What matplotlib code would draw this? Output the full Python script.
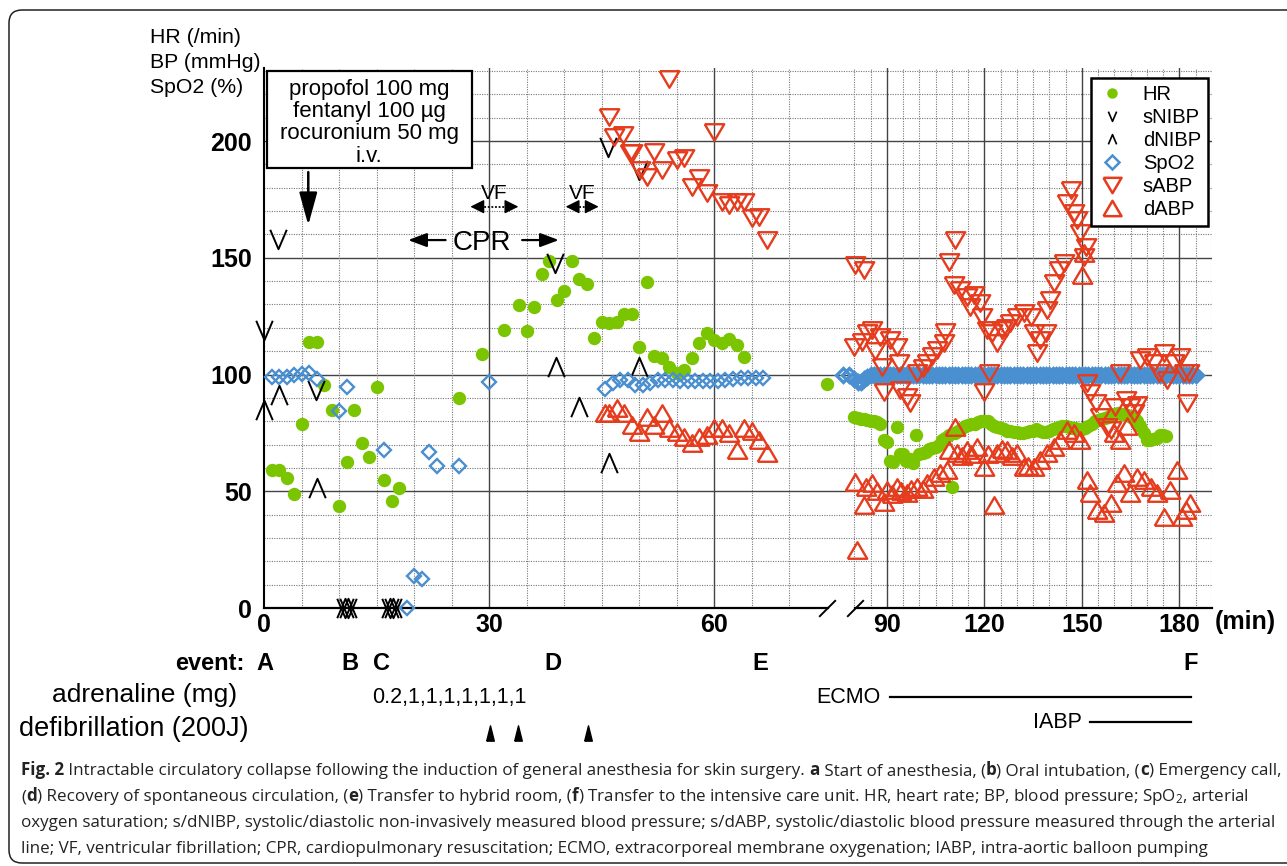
import numpy as np
import matplotlib
matplotlib.use('Agg')
import matplotlib.pyplot as plt
from matplotlib.lines import Line2D
from matplotlib.path import Path
from matplotlib import transforms as mtrans
from matplotlib.patches import Rectangle, FancyBboxPatch
from matplotlib import font_manager as fm
import os

plt.rcParams['font.family'] = ['Liberation Sans', 'DejaVu Sans']

# ---------------- data (time in minutes) ----------------
hr_time = [1, 2, 3, 4, 5, 6, 7, 8, 9, 10, 11, 12, 13, 14, 15, 16, 17, 18, 26, 29, 32, 34, 35, 36,
           37, 38, 39, 40, 41, 42, 43, 44, 45, 46, 47, 48, 49, 50, 51, 52, 53, 54, 55, 56, 57,
           58, 59, 60, 61, 62, 63, 64, 75]
hr_value = [59.1, 59, 55.5, 48.7, 78.7, 113.8, 113.8, 95.5, 84.8, 43.8, 62.7, 84.8, 70.5, 64.8,
            94.5, 54.8, 45.8, 51.5, 89.8, 108.8, 119, 129.8, 118.5, 129, 142.9, 148.7, 131.9,
            135.8, 148.7, 140.9, 138.8, 115.8, 122.6, 121.9, 122.6, 126, 125.9, 111.9, 139.8,
            107.9, 107.2, 103.4, 100.5, 101.9, 106.9, 113.6, 117.9, 114.8, 113.6, 115.1, 112.6,
            107.6, 95.9]
hr_icu_time = [80, 81, 82, 83, 84, 85, 86, 87, 88, 89, 90, 91, 92, 93, 94, 95, 96, 97, 98, 99,
               100, 101, 102, 103, 104, 105, 106, 107, 108, 109, 110, 111, 112, 113, 114, 115,
               116, 117, 118, 119, 120, 121, 122, 123, 124, 125, 126, 127, 128, 129, 130, 131,
               132, 133, 134, 135, 136, 137, 138, 139, 140, 141, 142, 143, 144, 145, 146, 147,
               148, 149, 150, 151, 152, 153, 154, 155, 156, 157, 158, 159, 160, 161, 162, 163,
               164, 165, 166, 167, 168, 169, 170, 171, 172, 173, 174, 175, 176]
hr_icu_value = [82, 81.5, 81, 81, 80.5, 80, 80, 79.5, 79, 72, 71, 63, 62.5, 77.7, 66, 66, 63, 64,
                62, 74, 66, 66.5, 67, 68, 68.5, 69, 70, 72, 73, 74, 52, 75, 76, 77, 78, 78.5, 79,
                79, 79.5, 80, 80, 80, 79, 78, 77.5, 77, 76.5, 76, 76, 75.5, 75.5, 75, 75, 75.5,
                76, 76, 76.5, 76, 75.5, 75.5, 76, 76.5, 77, 77.5, 78, 78, 77.5, 77, 77, 76.5,
                76.5, 77, 78, 79, 80, 80.5, 81, 81.5, 82, 82.5, 83, 83.5, 83, 83, 82.5, 82, 82,
                80, 78, 75, 72, 72, 72.5, 73, 74, 74, 73.5]

snibp_time = [0, 1.9, 6.9, 10.8, 11.2, 16.8, 17.2, 38.8, 45.9, 50.0]
snibp_value = [119, 158, 93.4, 0, 0, 0, 0, 147.6, 197.6, 187.6]
dnibp_time = [0, 2.0, 7.0, 10.8, 11.2, 16.8, 17.2, 38.9, 42.0, 46.0, 50.0]
dnibp_value = [84.8, 91.2, 51.3, 0, 0, 0, 0, 103.4, 86.2, 62, 103.4]

spo2_time = [1, 2, 3, 4, 5, 6, 7, 10, 11, 16, 19, 20, 21, 22, 23, 26, 30,
             45.5, 46.5, 47.5, 48.5, 49.5, 50.5, 51.5, 52.5, 53.5, 54.5, 55.5, 56.5, 57.5, 58.5,
             59.5, 60.5, 61.5, 62.5, 63.5, 64.5, 65.5, 66.5]
spo2_value = [98.8, 98.8, 98.8, 99.8, 100.2, 100.7, 98.3, 84.5, 94.5, 67.7, 0, 13.7, 12.3, 66.9,
              60.8, 60.9, 96.9,
              94, 96.5, 97.5, 97.5, 95.5, 95.5, 96.5, 97.5, 97.5, 97.5, 97.3, 97.3, 97.3, 97.3,
              97.3, 97.3, 97.5, 98, 98.5, 98.5, 98.5, 98.5]
spo2_icu_time = [78, 79, 80, 81, 82, 83, 84, 85, 86, 87, 88, 89, 90, 91, 92, 93, 94, 95, 96, 97,
                 98, 99, 100, 101, 102, 103, 104, 105, 106, 107, 108, 109, 110, 111, 112, 113,
                 114, 115, 116, 117, 118, 119, 120, 121, 122, 123, 124, 125, 126, 127, 128, 129,
                 130, 131, 132, 133, 134, 135, 136, 137, 138, 139, 140, 141, 142, 143, 144, 145,
                 146, 147, 148, 149, 150, 151, 152, 153, 154, 155, 156, 157, 158, 159, 160, 161,
                 162, 163, 164, 165, 166, 167, 168, 169, 170, 171, 172, 173, 174, 175, 176, 177,
                 178, 179, 180, 181, 182, 183, 184, 185]
spo2_icu_value = [100, 100, 98, 97, 97, 98, 99, 100, 100, 100, 100, 100, 100, 100, 100, 100, 100,
                  100, 100, 100, 100, 100, 100, 100, 100, 100, 100, 100, 100, 100, 100, 100, 100,
                  100, 100, 100, 100, 100, 100, 100, 100, 100, 100, 100, 100, 100, 100, 100, 100,
                  100, 100, 100, 100, 100, 100, 100, 100, 100, 100, 100, 100, 100, 100, 100, 100,
                  100, 100, 100, 100, 100, 100, 100, 100, 100, 100, 100, 100, 100, 100, 100, 100,
                  100, 100, 100, 100, 100, 100, 100, 100, 100, 100, 100, 100, 100, 100, 100, 100,
                  100, 100, 100, 100, 100, 100, 100, 100, 100, 100, 100]

sabp_time = [46, 46.6, 47.9, 48.8, 49, 50.1, 51.1, 52, 53, 54, 55, 56, 57, 58, 59, 60, 61, 62, 63,
             64, 65, 66, 67,
             80, 80.3, 82.4, 82.9, 84, 85.4, 86.5, 88, 88.5, 89, 91, 93.1, 93.6, 94.2, 96.2, 97.2,
             99.3, 101, 102.4, 104, 105.4, 107.5, 108, 109, 110.6, 111.1, 112.6, 114.7, 115.7,
             116.7, 118.8, 119.3, 119.8, 120.8, 121.3, 122.4, 123.9, 125.4, 126.5, 128, 130,
             132.1, 134.2, 135.2, 136.2, 137.2, 138.8, 139.3, 140.3, 141.3, 142.9, 144.4, 145.4,
             146.5, 147.5, 148.5, 149.5, 150.6, 151.1, 151.6, 152.6, 154.2, 155.7, 157.7, 158.8,
             160.3, 161.8, 163.4, 164.9, 166, 167, 168, 170, 172.1, 173.6, 175.2, 176.2, 178.3,
             180.3, 181.3, 182.4, 182.9]
sabp_value = [210.4, 201.8, 202.6, 195, 194.7, 187.6, 184.7, 195.5, 187.6, 226.8, 191.9, 192.6,
              180.5, 184, 177.6, 204, 174, 172.6, 174, 174, 166.9, 167.6, 157.6,
              111.9, 146.9, 114, 144.7, 118, 119, 110, 116.2, 103.4, 92.6, 114.8, 111.9, 104.8,
              93.4, 90.5, 87.7, 100.5, 103, 104.8, 108, 110.5, 113.3, 118.3, 148.3, 138.3, 157.6,
              136.2, 133.3, 129, 134, 130.5, 124.8, 92.6, 119, 100.5, 117.6, 113.3, 119, 120,
              121.9, 124.8, 126.2, 124.8, 117.6, 109.1, 114.8, 117.6, 127.6, 131.9, 139, 144.8,
              147.6, 173.3, 179, 169, 166.2, 160.5, 150.5, 154.7, 96.2, 92, 87.7, 81.9, 77.7,
              76.2, 86.2, 100.5, 89, 86.2, 83.4, 87, 106.2, 107.6, 104.8, 100.5, 109.1, 97.6,
              104.8, 107.6, 100.5, 87.7, 100.5]

dabp_time = [45.5, 46, 47, 48, 49, 50, 51, 52, 53, 54, 55, 56, 57, 58, 59, 60, 61, 62, 63, 64,
             65, 66, 67,
             80.3, 80.8, 82.9, 83.5, 85.4, 87, 89, 90, 91.5, 93.1, 94.5, 96.2, 97.5, 99.3, 101,
             102.4, 104.4, 106.5, 108.5, 109, 111.1, 111.6, 113, 114.7, 116, 117.7, 119.8, 121,
             122.9, 123.9, 125.5, 127, 128.5, 130, 132.1, 133.5, 135.2, 137.2, 139.3, 141.3,
             143.4, 145.4, 147.5, 149.5, 150, 150.5, 151.6, 152.6, 154.7, 156.7, 158.8, 159.8,
             160.8, 161.8, 162.9, 163.9, 164.9, 167, 169, 171.1, 173.1, 175.2, 177.2, 179.3,
             180.8, 182, 183.3]
dabp_value = [83.4, 83.4, 85.5, 83.4, 78.4, 75.5, 82, 78.4, 83.4, 77, 75.5, 73.4, 70.5, 73.4, 74,
              77, 77, 75, 67.7, 77, 76, 72, 66.2,
              54.1, 24.8, 44.1, 52, 53.4, 50, 45.5, 50.5, 49, 52, 50, 49.1, 51, 52, 51, 53.4,
              56.2, 57.7, 59.1, 67.7, 77.7, 66.2, 65, 67.7, 66, 69.1, 60.5, 66, 44.1, 66.2, 68,
              67.7, 65, 66.2, 60.5, 61, 60.5, 63.4, 66.2, 69.1, 72, 76.2, 74.8, 72, 142.6, 152,
              55, 49.1, 42, 40.5, 44.8, 74.8, 53.4, 72, 57.7, 78, 49.1, 56.2, 54.8, 52, 49.1,
              39.1, 50.5, 59.1, 39.1, 42, 44.8]

x_ticks = [0, 30, 60, 90, 120, 150, 180]
y_ticks = [0, 50, 100, 150, 200]
event_labels = ['A', 'B', 'C', 'D', 'E', 'F']
event_time = [0.1, 11.5, 15.7, 38.5, 66.1, 183.4]
defib_time = [30.1, 33.9, 43.2]
adrenaline_text = '0.2,1,1,1,1,1,1,1'
ecmo_span = [91, 183.4]
iabp_span = [152.6, 183.4]
drug_lines = ['propofol 100 mg', 'fentanyl 100 µg', 'rocuronium 50 mg', 'i.v.']

GREEN = '#7AC400'
BLUE = '#4A8FD0'
RED = '#E63C1E'

# caption font: first humanist family that really has a bold face installed
CAP_FAMILY = 'Liberation Sans'
for fam in ['Open Sans', 'Noto Sans', 'Lato', 'Roboto']:
    try:
        f_reg = fm.findfont(fm.FontProperties(family=fam), fallback_to_default=False)
        f_bold = fm.findfont(fm.FontProperties(family=fam, weight='bold'),
                             fallback_to_default=False)
        if f_reg != f_bold and 'bold' in os.path.basename(f_bold).lower():
            CAP_FAMILY = fam
            break
    except Exception:
        pass
CAP_FONT = [CAP_FAMILY, 'DejaVu Sans']
plt.rcParams['mathtext.fontset'] = 'custom'
plt.rcParams['mathtext.rm'] = CAP_FAMILY
plt.rcParams['mathtext.it'] = CAP_FAMILY + ':italic'

# ---------------- figure ----------------
W, H = 1287, 866
fig = plt.figure(figsize=(W / 100, H / 100), dpi=100)


def fx(x):
    return x / W


def fy(y):
    return 1 - y / H


ax = fig.add_axes([fx(264), fy(608), fx(1212) - fx(264), fy(68) - fy(608)])

# broken time axis: 7.5 px/min up to 75 min, 3.25 px/min after 80 min
brk_t = np.array([-10.0, 0.0, 75.0, 80.0, 200.0])
brk_u = np.array([-75.0, 0.0, 562.5, 590.0, 980.0])


def fwd(t):
    return np.interp(t, brk_t, brk_u)


def inv(u):
    return np.interp(u, brk_u, brk_t)


ax.set_xscale('function', functions=(fwd, inv))
ax.set_xlim(0, 190)
ax.set_ylim(0, 231.3)

# grid
for v in range(10, 231, 10):
    if v % 50 == 0:
        ax.axhline(v, color='#444444', lw=1.0, zorder=0.5)
    else:
        ax.axhline(v, color='#777777', lw=0.8, ls=(0, (1, 1.2)), zorder=0.5)
vgrid = list(range(5, 71, 5)) + list(range(80, 191, 5))
for t in vgrid:
    if t in (30, 60, 90, 120, 150, 180):
        ax.axvline(t, color='#444444', lw=1.0, zorder=0.5)
    else:
        ax.axvline(t, color='#777777', lw=0.8, ls=(0, (1, 1.2)), zorder=0.5)

for s in ['top', 'right', 'bottom']:
    ax.spines[s].set_visible(False)
ax.spines['left'].set_linewidth(1.5)
ax.spines['left'].set_color('black')

xax = ax.get_xaxis_transform()
ax.plot([0, 75.3], [0, 0], color='black', lw=1.6, transform=xax, clip_on=False, zorder=3)
ax.plot([80.2, 190], [0, 0], color='black', lw=1.6, transform=xax, clip_on=False, zorder=3)
slash = Path([(-1, -1), (1, 1)])
ax.plot([75.1, 80.2], [0, 0], ls='none', marker=slash, ms=12, mew=1.4, color='black',
        transform=xax, clip_on=False, zorder=3)

ax.set_xticks(x_ticks)
ax.set_yticks(y_ticks)
ax.set_xticklabels([str(v) for v in x_ticks])
ax.set_yticklabels([str(v) for v in y_ticks])
ax.tick_params(axis='both', length=0, labelsize=18)
ax.tick_params(axis='y', pad=8.6)
ax.tick_params(axis='x', pad=3.6)
for lab in ax.get_xticklabels() + ax.get_yticklabels():
    lab.set_fontweight('bold')
ax.text(1.003, -0.026, '(min)', transform=ax.transAxes, ha='left', va='center',
        fontsize=18, fontweight='bold')

# markers
V_path = Path([(-0.85, 1), (0, -1), (0.85, 1)])
L_path = Path([(-0.85, -1), (0, 1), (0.85, -1)])
tri_down = Path([(-1, 0.85), (1, 0.85), (0, -0.85), (-1, 0.85)])
tri_up = Path([(-1, -0.85), (1, -0.85), (0, 0.85), (-1, -0.85)])

ax.plot(hr_time + hr_icu_time, hr_value + hr_icu_value, ls='none', marker='o', ms=9.6,
        mfc=GREEN, mec=GREEN, mew=0, clip_on=False, zorder=4)
ax.plot(snibp_time, snibp_value, ls='none', marker=V_path, ms=14, mfc='none', mec='black',
        mew=1.4, clip_on=False, zorder=5)
ax.plot(dnibp_time, dnibp_value, ls='none', marker=L_path, ms=14, mfc='none', mec='black',
        mew=1.4, clip_on=False, zorder=5)
ax.plot(spo2_time, spo2_value, ls='none', marker='D', ms=7.4,
        mfc='none', mec=BLUE, mew=1.7, clip_on=False, zorder=6)
ax.plot(spo2_icu_time, spo2_icu_value, ls='none', marker='D', ms=7.6,
        mfc='none', mec=BLUE, mew=2.4, clip_on=False, zorder=6)
ax.plot(sabp_time, sabp_value, ls='none', marker=tri_down, ms=14, mfc='none', mec=RED,
        mew=1.7, clip_on=False, zorder=7)
ax.plot(dabp_time, dabp_value, ls='none', marker=tri_up, ms=14, mfc='none', mec=RED,
        mew=1.7, clip_on=False, zorder=7)

# legend
handles = [
    Line2D([], [], ls='none', marker='o', ms=7.5, mfc=GREEN, mec=GREEN, mew=0),
    Line2D([], [], ls='none', marker=V_path, ms=7, mfc='none', mec='black', mew=1.2),
    Line2D([], [], ls='none', marker=L_path, ms=7, mfc='none', mec='black', mew=1.2),
    Line2D([], [], ls='none', marker='D', ms=7, mfc='none', mec=BLUE, mew=1.8),
    Line2D([], [], ls='none', marker=tri_down, ms=13, mfc='none', mec=RED, mew=1.8),
    Line2D([], [], ls='none', marker=tri_up, ms=13, mfc='none', mec=RED, mew=1.8),
]
labels = ['HR', 'sNIBP', 'dNIBP', 'SpO2', 'sABP', 'dABP']
leg = ax.legend(handles, labels, loc='upper right', bbox_to_anchor=(fx(1208), fy(78)),
                bbox_transform=fig.transFigure, borderaxespad=0, fontsize=14.5,
                fancybox=False, framealpha=1, edgecolor='black', handlelength=1.3,
                handletextpad=0.9, labelspacing=0.2, borderpad=0.35)
leg.get_frame().set_linewidth(1.8)
leg.set_zorder(10)

# annotations inside the plot
ax.annotate('', xy=(5.9, 164.0), xytext=(5.9, 186.7),
            arrowprops=dict(arrowstyle='-|>,head_length=0.8,head_width=0.22', lw=1.8,
                            color='black', mutation_scale=25, shrinkA=0, shrinkB=0), zorder=8)
cpr_v = 157.6
ax.annotate('', xy=(19.2, cpr_v), xytext=(24.2, cpr_v),
            arrowprops=dict(arrowstyle='-|>,head_length=0.75,head_width=0.28', lw=1.6,
                            color='black', mutation_scale=15, shrinkA=0, shrinkB=0))
ax.annotate('', xy=(39.3, cpr_v), xytext=(34.4, cpr_v),
            arrowprops=dict(arrowstyle='-|>,head_length=0.75,head_width=0.28', lw=1.6,
                            color='black', mutation_scale=15, shrinkA=0, shrinkB=0))
ax.text(29.1, 153.3, 'CPR', ha='center', va='baseline', fontsize=20)

for (t1, t2) in [(27.5, 33.9), (40.2, 44.6)]:
    vv = 171.9
    ax.plot([t1 + 0.9, t2 - 0.9], [vv, vv], ls=(0, (1, 1)), lw=1.3, color='black')
    ax.annotate('', xy=(t1, vv), xytext=(t1 + 1.3, vv),
                arrowprops=dict(arrowstyle='-|>,head_length=0.6,head_width=0.3', lw=1,
                                color='black', mutation_scale=14, shrinkA=0, shrinkB=0))
    ax.annotate('', xy=(t2, vv), xytext=(t2 - 1.3, vv),
                arrowprops=dict(arrowstyle='-|>,head_length=0.6,head_width=0.3', lw=1,
                                color='black', mutation_scale=14, shrinkA=0, shrinkB=0))
    ax.text((t1 + t2) / 2, 175.2, 'VF', ha='center', va='baseline', fontsize=15)

# drug box (figure level so it covers the grid)
box = Rectangle((fx(266.7), fy(168.3)), fx(471.7) - fx(266.7), fy(71) - fy(168.3),
                transform=fig.transFigure, facecolor='white', edgecolor='black', lw=1.6,
                zorder=20)
fig.add_artist(box)
for i, line in enumerate(drug_lines):
    fig.text(fx(369.2), fy(95 + 22.2 * i), line, ha='center', va='baseline', fontsize=16,
             zorder=21)

# axis title block
for i, line in enumerate(['HR (/min)', 'BP (mmHg)', 'SpO2 (%)']):
    fig.text(fx(150), fy(43.3 + 25 * i), line, ha='left', va='baseline', fontsize=15.3)

# rows below the axis
blend = mtrans.blended_transform_factory(ax.transData, fig.transFigure)
fig.text(fx(245), fy(670), 'event:', ha='right', va='baseline', fontsize=17, fontweight='bold')
for lab, t in zip(event_labels, event_time):
    ax.text(t, fy(670), lab, transform=blend, ha='center', va='baseline', fontsize=17,
            fontweight='bold', clip_on=False)
fig.text(fx(145), fy(702), 'adrenaline (mg)', ha='center', va='baseline', fontsize=19)
fig.text(fx(134), fy(736), 'defibrillation (200J)', ha='center', va='baseline', fontsize=19.5)
ax.text(14.4, fy(703), adrenaline_text, transform=blend, ha='left', va='baseline',
        fontsize=15.5, clip_on=False)
arrow_up = Path([(-0.5, -1), (0.5, -1), (0, 1), (-0.5, -1)])
ax.plot(defib_time, [fy(733)] * len(defib_time), ls='none', marker=arrow_up, ms=11,
        color='black', transform=blend, clip_on=False)
ax.plot(ecmo_span, [fy(697)] * 2, color='black', lw=1.6, transform=blend, clip_on=False)
ax.plot(iabp_span, [fy(722)] * 2, color='black', lw=1.6, transform=blend, clip_on=False)
fig.text(fx(881), fy(703), 'ECMO', ha='right', va='baseline', fontsize=15.5)
fig.text(fx(1082), fy(728), 'IABP', ha='right', va='baseline', fontsize=15.5)

# caption: rich text drawn segment by segment
cap_lines = [
    [("Fig. 2", 'bold'),
     (" Intractable circulatory collapse following the induction of general anesthesia for "
      "skin surgery. ", 'normal'),
     ("a", 'bold'), (" Start of anesthesia, (", 'normal'), ("b", 'bold'),
     (") Oral intubation, (", 'normal'), ("c", 'bold'), (") Emergency call,", 'normal')],
    [("(", 'normal'), ("d", 'bold'), (") Recovery of spontaneous circulation, (", 'normal'),
     ("e", 'bold'), (") Transfer to hybrid room, (", 'normal'), ("f", 'bold'),
     (") Transfer to the intensive care unit. HR, heart rate; BP, blood pressure; SpO$_2$, "
      "arterial", 'normal')],
    [("oxygen saturation; s/dNIBP, systolic/diastolic non-invasively measured blood pressure; "
      "s/dABP, systolic/diastolic blood pressure measured through the arterial", 'normal')],
    [("line; VF, ventricular fibrillation; CPR, cardiopulmonary resuscitation; ECMO, "
      "extracorporeal membrane oxygenation; IABP, intra-aortic balloon pumping", 'normal')],
]
renderer = fig.canvas.get_renderer()


def text_w(s, weight, size):
    t = fig.text(0, 0, s, fontsize=size, fontweight=weight, family=CAP_FONT)
    w = t.get_window_extent(renderer=renderer).width
    t.remove()
    return w


def seg_w(s, weight, size):
    return text_w('|' + s + '|', weight, size) - text_w('||', weight, size)


base = 10.0
w1 = sum(seg_w(s, wt, base) for s, wt in cap_lines[0])
cap_size = base * (1257.0 / w1)
for i, segs in enumerate(cap_lines):
    xcur = 21.0
    ybase = 775 + 26 * i
    for s, wt in segs:
        fig.text(fx(xcur), fy(ybase), s, ha='left', va='baseline', fontsize=cap_size,
                 fontweight=wt, family=CAP_FONT, color='#222222')
        xcur += seg_w(s, wt, cap_size)

# rounded outer frame
frame = FancyBboxPatch((0.09, 0.03), 13.3, 8.53, boxstyle='round,pad=0,rounding_size=0.13',
                       transform=fig.dpi_scale_trans, facecolor='none', edgecolor='#222222',
                       lw=1.1, zorder=30)
fig.add_artist(frame)

fig.savefig('out.png', dpi=100)
